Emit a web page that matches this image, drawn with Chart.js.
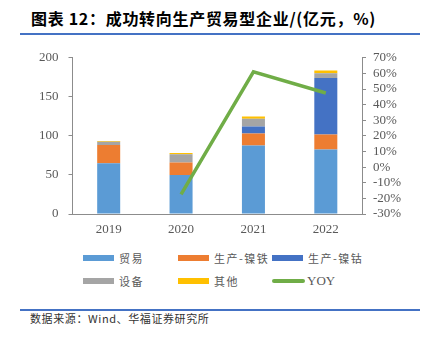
<!DOCTYPE html>
<html>
<head>
<meta charset="utf-8">
<script src="https://cdn.jsdelivr.net/npm/chart.js@4.4.0/dist/chart.umd.min.js"></script>
<style>
  body { margin: 0; width: 426px; height: 337px; background: #fff; position: relative; overflow: hidden; }
  #title { position: absolute; left: 31px; top: 6px; font: bold 16px "Noto Sans CJK SC", sans-serif; letter-spacing: 0.7px; color: #000; white-space: nowrap; }
  .rule { position: absolute; left: 20px; width: 400px; height: 1.5px; background: #4472C4; }
  #wrap { position: absolute; left: 0; top: 40px; width: 426px; height: 200px; }
  #legend { position: absolute; left: 0; top: 0; }
  .item { position: absolute; display: flex; align-items: center; font: 11px "Noto Sans CJK SC", sans-serif; letter-spacing: 1.5px; color: #595959; white-space: nowrap; }
  .sw { width: 31px; height: 6px; margin-right: 5px; }
  #source { position: absolute; left: 30px; top: 310px; font: 11px "Noto Sans CJK SC", sans-serif; letter-spacing: 0.6px; color: #333; }
</style>
</head>
<body>
<div id="title">图表 12：成功转向生产贸易型企业/(亿元，%)</div>
<div class="rule" style="top:33px"></div>
<div id="wrap"><canvas id="chart" width="426" height="200"></canvas></div>
<div id="legend"></div>
<div class="rule" style="top:309px"></div>
<div id="source">数据来源：Wind、华福证券研究所</div>
<script>
// 年份
const years = ['2019', '2020', '2021', '2022'];
// 各业务收入（亿元）
const trade = [65, 50, 87.7, 82.7];
const niFe = [23.5, 16, 15.3, 19];
const niCo = [0, 0, 9, 72.3];
const equipment = [4, 10.5, 10, 6.3];
const other = [1, 1.5, 3, 3.3];
// 同比（%）
const yoy = [null, -17.5, 61, 47.5];

const barStyle = { barPercentage: 1, categoryPercentage: 0.318, yAxisID: 'y', order: 1, stack: 's' };

const datasets = [
  { ...barStyle, type: 'bar', label: '贸易', data: trade, backgroundColor: '#5B9BD5' },
  { ...barStyle, type: 'bar', label: '生产-镍铁', data: niFe, backgroundColor: '#ED7D31' },
  { ...barStyle, type: 'bar', label: '生产-镍钴', data: niCo, backgroundColor: '#4472C4' },
  { ...barStyle, type: 'bar', label: '设备', data: equipment, backgroundColor: '#A5A5A5' },
  { ...barStyle, type: 'bar', label: '其他', data: other, backgroundColor: '#FFC000' },
  { type: 'line', label: 'YOY', data: yoy, borderColor: '#70AD47', backgroundColor: '#70AD47',
    borderWidth: 3.5, pointRadius: 0, yAxisID: 'y1', order: 0, spanGaps: false }
];

const tickFont = { family: '"Liberation Serif", "Times New Roman", serif', size: 13 };

new Chart(document.getElementById('chart'), {
  data: { labels: years, datasets: datasets },
  options: {
    responsive: false,
    animation: false,
    layout: { padding: { top: 13, bottom: 0, left: 0, right: 0 } },
    plugins: { legend: { display: false }, tooltip: { enabled: false } },
    scales: {
      x: {
        stacked: true,
        grid: { display: false, drawTicks: false },
        border: { display: true, color: '#8c8c8c', width: 1 },
        ticks: { color: '#595959', font: tickFont, padding: 8 },
        afterFit: s => { s.height = 26; }
      },
      y: {
        stacked: true,
        position: 'left',
        min: 0, max: 200,
        grid: { drawOnChartArea: false, drawTicks: true, tickLength: 4, color: '#8c8c8c' },
        border: { display: true, color: '#8c8c8c', width: 1 },
        ticks: { stepSize: 50, autoSkip: false, color: '#595959', font: tickFont, padding: 10 },
        afterFit: s => { s.width = 72.5; }
      },
      y1: {
        position: 'right',
        min: -30, max: 70,
        grid: { drawOnChartArea: false, drawTicks: true, tickLength: 4, color: '#8c8c8c' },
        border: { display: true, color: '#8c8c8c', width: 1 },
        ticks: { stepSize: 10, autoSkip: false, color: '#595959', font: tickFont, padding: 7, callback: v => v + '%' },
        afterFit: s => { s.width = 64; }
      }
    }
  }
});

// 图例（两行三列）
const legendPos = [[83, 259], [178, 259], [272, 259], [83, 282], [178, 282], [272, 282]];
const legend = document.getElementById('legend');
datasets.forEach((ds, i) => {
  const item = document.createElement('div');
  item.className = 'item';
  item.style.left = legendPos[i][0] + 'px';
  item.style.top = (legendPos[i][1] - 9) + 'px';
  const sw = document.createElement('span');
  sw.className = 'sw';
  sw.style.background = ds.type === 'line' ? ds.borderColor : ds.backgroundColor;
  if (ds.type === 'line') { sw.style.height = '4px'; sw.style.borderRadius = '2px'; sw.style.width = '33px'; sw.style.marginRight = '2px'; }
  const txt = document.createElement('span');
  txt.textContent = ds.label;
  if (ds.type === 'line') { txt.style.font = '13px "Liberation Serif", serif'; txt.style.letterSpacing = '0'; }
  item.appendChild(sw);
  item.appendChild(txt);
  legend.appendChild(item);
});
</script>
</body>
</html>
